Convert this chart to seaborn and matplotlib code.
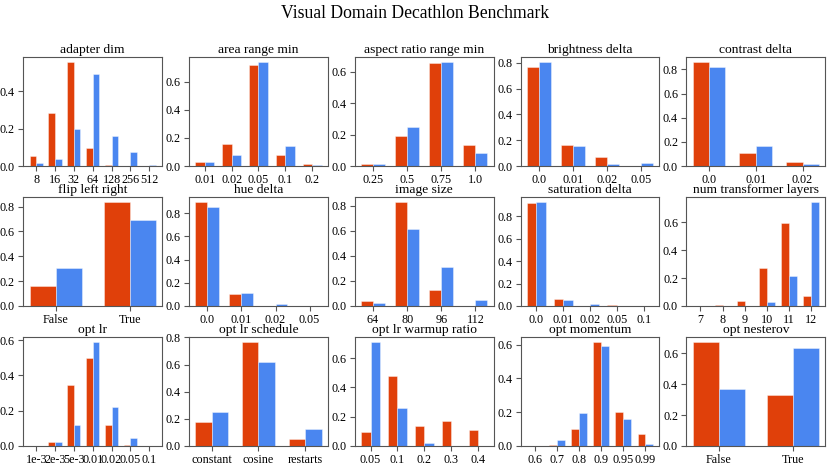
import matplotlib
matplotlib.use("Agg")
import matplotlib.pyplot as plt
from matplotlib.ticker import MultipleLocator, FormatStrFormatter
import seaborn as sns
import pandas as pd

# one entry per panel: title, categories, red series, blue series
titulos = ["adapter dim", "area range min", "aspect ratio range min", "brightness delta", "contrast delta",
           "flip left right", "hue delta", "image size", "saturation delta", "num transformer layers",
           "opt lr", "opt lr schedule", "opt lr warmup ratio", "opt momentum", "opt nesterov"]

categorias = [
    ["8", "16", "32", "64", "128", "256", "512"],
    ["0.01", "0.02", "0.05", "0.1", "0.2"],
    ["0.25", "0.5", "0.75", "1.0"],
    ["0.0", "0.01", "0.02", "0.05"],
    ["0.0", "0.01", "0.02"],
    ["False", "True"],
    ["0.0", "0.01", "0.02", "0.05"],
    ["64", "80", "96", "112"],
    ["0.0", "0.01", "0.02", "0.05", "0.1"],
    ["7", "8", "9", "10", "11", "12"],
    ["1e-3", "2e-3", "5e-3", "0.01", "0.02", "0.05", "0.1"],
    ["constant", "cosine", "restarts"],
    ["0.05", "0.1", "0.2", "0.3", "0.4"],
    ["0.6", "0.7", "0.8", "0.9", "0.95", "0.99"],
    ["False", "True"],
]

valores_rojo = [
    [0.055, 0.285, 0.555, 0.098, 0.005, 0.0, 0.0],
    [0.03, 0.155, 0.72, 0.078, 0.012],
    [0.012, 0.19, 0.655, 0.135],
    [0.765, 0.16, 0.07, 0.0],
    [0.86, 0.107, 0.03],
    [0.16, 0.835],
    [0.895, 0.10, 0.003, 0.0],
    [0.04, 0.83, 0.125, 0.0],
    [0.92, 0.065, 0.0, 0.008, 0.0],
    [0.0, 0.005, 0.035, 0.275, 0.595, 0.07],
    [0.0, 0.025, 0.345, 0.497, 0.12, 0.007, 0.0],
    [0.18, 0.765, 0.05],
    [0.095, 0.48, 0.135, 0.17, 0.11],
    [0.0, 0.005, 0.10, 0.615, 0.20, 0.073],
    [0.672, 0.328],
]

valores_azul = [
    [0.018, 0.037, 0.2, 0.494, 0.162, 0.075, 0.005],
    [0.025, 0.078, 0.74, 0.145, 0.008],
    [0.01, 0.245, 0.66, 0.08],
    [0.805, 0.158, 0.012, 0.022],
    [0.82, 0.163, 0.015],
    [0.305, 0.69],
    [0.855, 0.115, 0.02, 0.003],
    [0.02, 0.615, 0.31, 0.05],
    [0.925, 0.05, 0.018, 0.0, 0.0],
    [0.0, 0.0, 0.0, 0.032, 0.215, 0.745],
    [0.0, 0.02, 0.118, 0.588, 0.22, 0.043, 0.0],
    [0.25, 0.62, 0.128],
    [0.71, 0.262, 0.022, 0.0, 0.0],
    [0.0, 0.038, 0.193, 0.59, 0.16, 0.013],
    [0.368, 0.632],
]

rojo = "#E0400A"
azul = "#4A86F0"

plt.rcParams["font.family"] = ["Liberation Serif", "DejaVu Serif"]
plt.rcParams["axes.edgecolor"] = "#555555"
plt.rcParams["xtick.color"] = "#555555"
plt.rcParams["ytick.color"] = "#555555"
plt.rcParams["xtick.labelcolor"] = "black"
plt.rcParams["ytick.labelcolor"] = "black"
plt.rcParams["xtick.labelsize"] = 8.7
plt.rcParams["ytick.labelsize"] = 8.7
plt.rcParams["xtick.major.pad"] = 2.5
plt.rcParams["ytick.major.pad"] = 2.5

fig, axes = plt.subplots(3, 5, figsize=(8.31, 4.67), dpi=100)
fig.subplots_adjust(left=0.028, right=0.993, top=0.878, bottom=0.045,
                    wspace=0.194, hspace=0.284)

for i, ax in enumerate(axes.flat):
    cats = categorias[i]
    datos = pd.DataFrame({
        "valor": valores_rojo[i] + valores_azul[i],
        "cat": cats + cats,
        "serie": ["rojo"] * len(cats) + ["azul"] * len(cats),
    })
    sns.barplot(data=datos, x="cat", y="valor", hue="serie", order=cats,
                hue_order=["rojo", "azul"], palette=[rojo, azul], width=0.7,
                saturation=1, legend=False, ax=ax, linewidth=0.6)
    for barra in ax.patches:
        barra.set_edgecolor((1, 1, 1, 0.45))
    n = len(cats)
    margen = 0.05 * (n - 1 + 0.7)
    ax.set_xlim(-0.35 - margen, n - 1 + 0.35 + margen)
    ax.yaxis.set_major_locator(MultipleLocator(0.2))
    ax.yaxis.set_major_formatter(FormatStrFormatter("%.1f"))
    ax.set_xlabel("")
    ax.set_ylabel("")
    ax.set_title(titulos[i], fontsize=9.7, pad=3)
    for lado in ["top", "right", "left", "bottom"]:
        ax.spines[lado].set_visible(True)
        ax.spines[lado].set_linewidth(0.8)

fig.suptitle("Visual Domain Decathlon Benchmark", fontsize=12.7, y=0.99)
fig.savefig("out.png", dpi=100)
